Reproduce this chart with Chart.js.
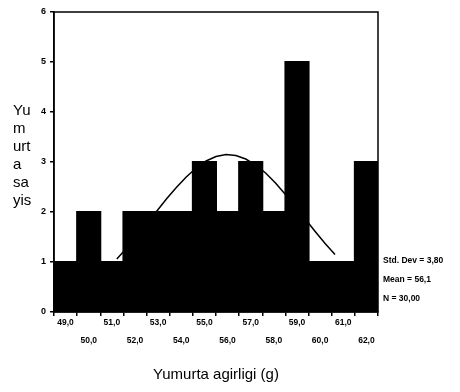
<!DOCTYPE html>
<html>
<head>
<meta charset="utf-8">
<script src="https://cdn.jsdelivr.net/npm/chart.js@4"></script>
<style>
    html, body { margin: 0; padding: 0; background: #fff; }
    #wrap { position: relative; width: 460px; height: 392px; }
    .side { position: absolute; font-family: "Liberation Sans", Arial, sans-serif; color: #000; }
    #ytitle { left: 13px; top: 101px; font-size: 15px; line-height: 18px; }
    #stats { left: 383px; top: 251px; font-size: 8.5px; font-weight: bold; line-height: 19px; white-space: nowrap; }
</style>
</head>
<body>
<div id="wrap">
    <canvas id="chart" width="460" height="392"></canvas>
    <div id="ytitle" class="side">Yu<br>m<br>urt<br>a<br>sa<br>yis</div>
    <div id="stats" class="side">Std. Dev = 3,80<br>Mean = 56,1<br>N = 30,00</div>
</div>
<script>
// ── Data ────────────────────────────────────────────────────────────────────
const weights = [49, 50, 51, 52, 53, 54, 55, 56, 57, 58, 59, 60, 61, 62];
const counts  = [1, 2, 1, 2, 2, 2, 3, 2, 3, 2, 5, 1, 1, 3];
const curveX  = [50.5, 51, 51.5, 52, 52.5, 53, 53.5, 54, 54.5, 55, 55.5, 56,
                 56.5, 57, 57.5, 58, 58.5, 59, 59.5, 60, 60.5, 61, 61.5];
const curveY  = [1.06, 1.28, 1.51, 1.76, 2.01, 2.26, 2.49, 2.70, 2.88, 3.02, 3.11, 3.15,
                 3.13, 3.06, 2.94, 2.78, 2.58, 2.35, 2.11, 1.86, 1.61, 1.37, 1.15];
const yTicks  = [0, 1, 2, 3, 4, 5, 6];

// labels like "49,0", staggered on two rows
const tickLabels = weights.map((w, i) => {
    const s = w.toFixed(1).replace('.', ',');
    return i % 2 === 0 ? [s, ''] : ['', s];
});

const frame = {
    id: 'frame',
    afterDatasetsDraw(chart) {
        const { ctx, chartArea: a } = chart;
        ctx.save();
        ctx.strokeStyle = '#000';
        ctx.lineWidth = 1.5;
        ctx.strokeRect(a.left, a.top, a.right - a.left, a.bottom - a.top);
        ctx.restore();
    }
};

new Chart(document.getElementById('chart'), {
    type: 'bar',
    data: {
        labels: tickLabels,
        datasets: [{
            data: counts,
            backgroundColor: '#000',
            borderWidth: 0,
            inflateAmount: 1,
            barPercentage: 1,
            categoryPercentage: 1,
            grouped: false,
            xAxisID: 'x',
            order: 2,
        }, {
            type: 'line',
            data: curveX.map((x, i) => ({ x, y: curveY[i] })),
            borderColor: '#000',
            borderWidth: 1.5,
            pointRadius: 0,
            tension: 0,
            xAxisID: 'x2',
            order: 1,
        }],
    },
    options: {
        responsive: false,
        animation: false,
        layout: { padding: { left: 34, right: 82, top: 12, bottom: 0 } },
        plugins: { legend: { display: false }, tooltip: { enabled: false } },
        scales: {
            x: {
                type: 'category',
                grid: { drawOnChartArea: false, tickLength: 4, color: '#000', lineWidth: 1.5 },
                border: { color: '#000', width: 1.5 },
                ticks: {
                    color: '#000',
                    maxRotation: 0,
                    autoSkip: false,
                    padding: -2,
                    font: { family: 'Liberation Sans', size: 8.5, weight: 'bold', lineHeight: 2.12 },
                },
                title: {
                    display: true,
                    text: 'Yumurta agirligi (g)',
                    color: '#000',
                    font: { family: 'Liberation Sans', size: 15 },
                    padding: { top: 8, bottom: 8 },
                },
                afterFit: s => { s.height = 80; },
            },
            x2: {
                type: 'linear',
                display: false,
                min: 48.5,
                max: 62.5,
            },
            y: {
                min: 0,
                max: 6,
                afterBuildTicks: s => { s.ticks = yTicks.map(v => ({ value: v })); },
                grid: { drawOnChartArea: false, tickLength: 4, color: '#000', lineWidth: 1.5 },
                border: { color: '#000', width: 1.5 },
                ticks: {
                    color: '#000',
                    padding: 4,
                    font: { family: 'Liberation Sans', size: 9, weight: 'bold' },
                },
                afterFit: s => { s.width = 20; },
            },
        },
    },
    plugins: [frame],
});
</script>
</body>
</html>
